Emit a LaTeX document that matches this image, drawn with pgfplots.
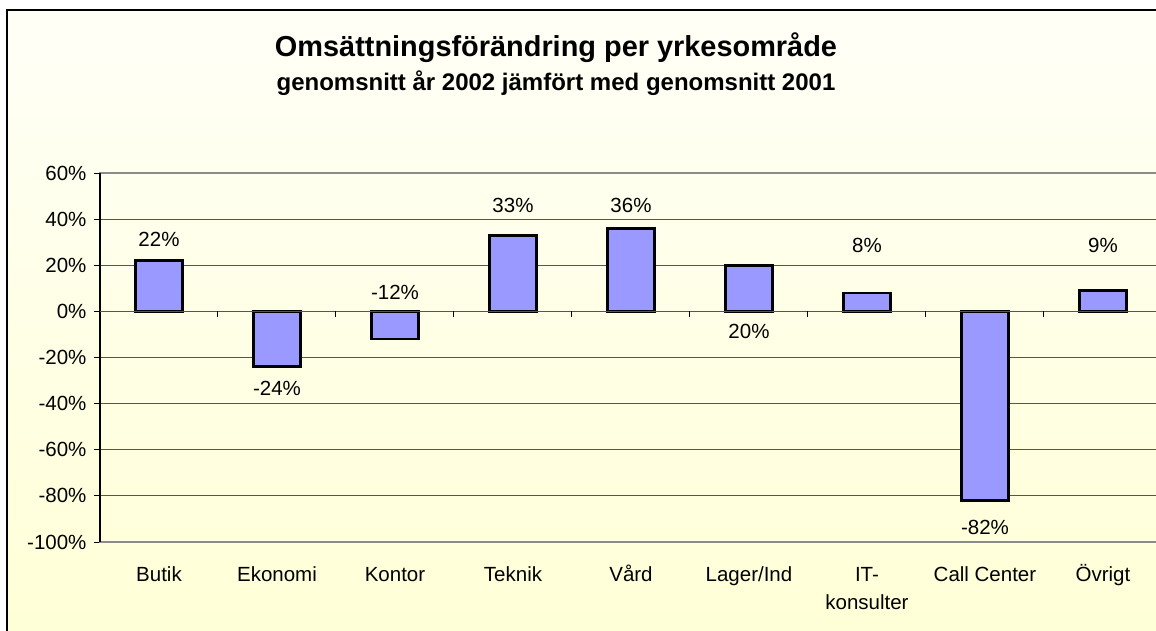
\documentclass[border=0pt]{standalone}
\usepackage{pgfplots}
\pgfplotsset{compat=1.18}
\usepackage{fontspec}
\setmainfont{Liberation Sans}
\definecolor{barfill}{HTML}{9999FF}
\definecolor{bgtop}{HTML}{FFFFF7}
\definecolor{bgbot}{HTML}{FFFFD6}
\definecolor{gridc}{HTML}{555555}
\definecolor{borderc}{HTML}{8C8C8C}
\begin{document}
\begin{tikzpicture}[x=1pt,y=1pt]
\shade[top color=bgtop,bottom color=bgbot] (7,-10) rectangle (1170,-640);
\draw[line width=2.5pt] (7,-640) -- (7,-10) -- (1170,-10);
\node[font=\fontsize{28.9}{32}\selectfont\bfseries] at (556,-48) {Omsättningsförändring per yrkesområde};
\node[font=\fontsize{24}{28}\selectfont\bfseries] at (556,-83) {genomsnitt år 2002 jämfört med genomsnitt 2001};
\begin{axis}[
  at={(100pt,-542pt)}, anchor=south west, scale only axis,
  width=1062pt, height=369pt,
  xmin=-0.5, xmax=8.5, ymin=-100, ymax=60,
  xtick={0,...,8},
  xticklabels={Butik,Ekonomi,Kontor,Teknik,Vård,Lager/Ind,IT-\\konsulter,Call Center,Övrigt},
  ytick={-100,-80,...,60},
  yticklabel={\pgfmathprintnumber{\tick}\%},
  /pgf/number format/assume math mode=true,
  ymajorgrids, grid style={line width=1pt, color=gridc},
  axis line style={color=borderc, line width=2pt},
  ytick pos=left, tick align=outside, major tick length=6pt,
  xtick style={draw=none}, ytick style={line width=1pt, color=black},
  tick label style={font=\fontsize{20.5}{28}\selectfont},
  xticklabel style={align=center, anchor=north, yshift=-10pt},
  typeset ticklabels with strut,
  yticklabel style={xshift=-4pt},
  clip=false,
]
\addplot[ybar, bar shift=0pt, bar width=47pt, fill=barfill, draw=black, line width=2.5pt]
  coordinates {(0,22) (1,-24) (2,-12) (3,33) (4,36) (5,20) (6,8) (7,-82) (8,9)};
\addplot[only marks, mark=none, point meta=explicit,
  nodes near coords={\pgfmathprintnumber[fixed,precision=0]{\pgfplotspointmeta}\%},
  nodes near coords style={anchor=center, font=\fontsize{20.5}{25}\selectfont, text=black}]
  table[x=x, y=ly, meta=v] {
x ly v
0 31.2 22
1 -33.4 -24
2 8.2 -12
3 45.8 33
4 45.8 36
5 -8.7 20
6 28.6 8
7 -93.7 -82
8 28.6 9
};
\draw[line width=2pt, black] (axis cs:-0.5,-100) -- (axis cs:-0.5,60);
\draw[line width=1pt, gridc] (axis cs:-0.5,0) -- (axis cs:8.5,0);
\pgfplotsinvokeforeach{0.5,1.5,2.5,3.5,4.5,5.5,6.5,7.5}{
  \draw[line width=1pt, black] (axis cs:#1,0) -- ([yshift=-6pt]axis cs:#1,0);
}
\end{axis}
\pgfresetboundingbox
\path[use as bounding box] (0,0) rectangle (1156,-630);
\end{tikzpicture}
\end{document}
